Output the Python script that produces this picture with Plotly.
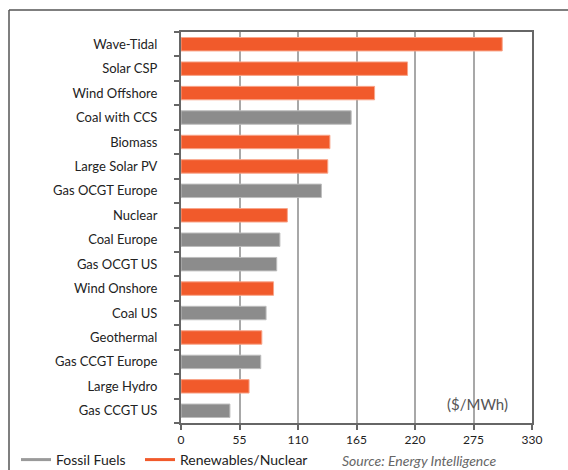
import plotly.graph_objects as go

categories = ["Wave-Tidal", "Solar CSP", "Wind Offshore", "Coal with CCS", "Biomass",
              "Large Solar PV", "Gas OCGT Europe", "Nuclear", "Coal Europe", "Gas OCGT US",
              "Wind Onshore", "Coal US", "Geothermal", "Gas CCGT Europe", "Large Hydro",
              "Gas CCGT US"]
values = [302, 213, 182, 160, 140, 138, 132, 100, 93, 90, 87, 80, 76, 75, 64, 46]
groups = ["R", "R", "R", "F", "R", "R", "F", "R", "F", "F", "R", "F", "R", "F", "R", "F"]
tick_vals = [0, 55, 110, 165, 220, 275, 330]

ORANGE = "#F15A2B"
GRAY = "#8C8C8C"
colors = [ORANGE if g == "R" else GRAY for g in groups]
edge = ["#F8A58A" if g == "R" else "#BDBDBD" for g in groups]

FONT = "Lato"

fig = go.Figure()
fig.add_trace(go.Bar(
    x=values, y=categories, orientation="h",
    marker=dict(color=colors, line=dict(color=edge, width=1)),
    showlegend=False, hoverinfo="x+y",
))
fig.add_trace(go.Scatter(x=[None], y=[None], mode="lines", name="Fossil Fuels",
                         line=dict(color="#9A9A9A", width=3), legend="legend"))
fig.add_trace(go.Scatter(x=[None], y=[None], mode="lines", name="Renewables/Nuclear",
                         line=dict(color=ORANGE, width=3), legend="legend2"))

# plot area in pixels: x 181..532, y 32..423
L, R, T, B = 181, 532, 32, 423
W, H = 568, 470
def px(x):
    return (x - L) / (R - L)
def py(y):
    return (B - y) / (B - T)

leg_common = dict(orientation="h", yanchor="top", xanchor="left",
                  font=dict(size=14, color="#222222"), itemwidth=30,
                  bgcolor="rgba(0,0,0,0)")

fig.update_layout(
    width=W, height=H,
    margin=dict(l=L, r=W - R, t=T, b=H - B, autoexpand=False),
    paper_bgcolor="white", plot_bgcolor="white",
    font=dict(family=FONT, color="#222222", size=13),
    bargap=0.45,
    xaxis=dict(
        range=[0, 330], tickvals=tick_vals, ticktext=[str(v) for v in tick_vals],
        showgrid=True, gridcolor="#A8A8A8", gridwidth=1.5,
        showline=True, linecolor="#666666", linewidth=2, mirror=True,
        ticks="outside", ticklen=5, tickcolor="#666666", tickwidth=1.5,
        tickfont=dict(size=12, color="#222222"), zeroline=False, fixedrange=True,
    ),
    yaxis=dict(
        categoryorder="array", categoryarray=categories[::-1],
        showline=True, linecolor="#666666", linewidth=2, mirror=True,
        ticks="outside", ticklen=5, tickcolor="#666666", tickwidth=1.5,
        tickson="boundaries", showgrid=False,
        tickfont=dict(size=13, color="#222222"), ticklabelstandoff=19,
    ),
    legend=dict(x=px(16), y=py(444), **leg_common),
    legend2=dict(x=px(140), y=py(444), **leg_common),
    shapes=[
        dict(type="line", xref="paper", yref="paper", x0=px(9), x1=px(620),
             y0=py(10), y1=py(10), line=dict(color="#555555", width=1.5)),
        dict(type="line", xref="paper", yref="paper", x0=px(9), x1=px(9),
             y0=py(10), y1=py(520), line=dict(color="#555555", width=1.5)),
    ],
    annotations=[
        dict(text="($/MWh)", xref="paper", yref="paper", x=px(510), y=py(404),
             xanchor="right", yanchor="middle", showarrow=False,
             font=dict(size=15, color="#555555")),
        dict(text="<i>Source: Energy Intelligence</i>", xref="paper", yref="paper",
             x=px(499), y=py(460), xanchor="right", yanchor="middle", showarrow=False,
             font=dict(size=14, color="#666666")),
    ],
)

fig.write_html("out.html")
